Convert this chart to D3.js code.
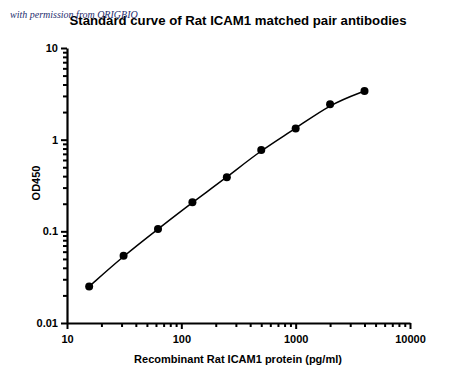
<!DOCTYPE html>
<html><head><meta charset="utf-8">
<script src="https://cdn.jsdelivr.net/npm/d3@7"></script>
<style>body{margin:0;background:#fff}svg{display:block}</style>
</head><body>
<svg id="c" width="450" height="381"></svg>
<script>
const concentrations = [15.625, 31.25, 62.5, 125, 250, 500, 1000, 2000, 4000];
const od450 = [0.025, 0.054, 0.106, 0.207, 0.388, 0.771, 1.32, 2.44, 3.39];
const xTickLabels = [10, 100, 1000, 10000];
const yTickLabels = [0.01, 0.1, 1, 10];

const svg = d3.select("#c");
const x = d3.scaleLog().domain([10, 10000]).range([67, 410]);
const y = d3.scaleLog().domain([0.01, 10]).range([323, 48]);
const font = "Arial, 'Liberation Sans', sans-serif";

const minorX = [], minorY = [];
for (let d = 10; d < 10000; d *= 10) for (let k = 2; k <= 9; k++) minorX.push(d * k);
for (let d = 0.01; d < 10; d *= 10) for (let k = 2; k <= 9; k++) minorY.push(+(d * k).toPrecision(3));

const gx = svg.append("g").attr("transform", "translate(0,323)");
gx.call(d3.axisBottom(x).tickValues(minorX).tickSize(4).tickFormat(""));
gx.call(g => g.selectAll(".domain").remove());
svg.append("g").attr("transform", "translate(0,323)")
  .call(d3.axisBottom(x).tickValues(xTickLabels).tickSize(6).tickSizeOuter(0).tickPadding(6).tickFormat(d3.format("d")));

const gy = svg.append("g").attr("transform", "translate(67,0)");
gy.call(d3.axisLeft(y).tickValues(minorY).tickSize(4).tickFormat(""));
gy.call(g => g.selectAll(".domain").remove());
svg.append("g").attr("transform", "translate(67,0)")
  .call(d3.axisLeft(y).tickValues(yTickLabels).tickSize(6).tickSizeOuter(0).tickPadding(3).tickFormat(d => String(d)));

svg.selectAll(".domain").attr("stroke", "#000").attr("stroke-width", 2.2);
svg.selectAll(".tick line").attr("stroke", "#000").attr("stroke-width", 2);
svg.selectAll(".tick text").attr("font-family", font).attr("font-weight", "bold").attr("font-size", 11).attr("fill", "#000");

const pts = concentrations.map((c, i) => [x(c), y(od450[i])]);
svg.append("path").datum(pts)
  .attr("d", d3.line().curve(d3.curveBasis))
  .attr("fill", "none").attr("stroke", "#000").attr("stroke-width", 1.5);
svg.selectAll("circle.pt").data(concentrations).join("circle")
  .attr("cx", d => x(d)).attr("cy", (d, i) => y(od450[i])).attr("r", 4).attr("fill", "#000");

svg.append("text").attr("x", 238).attr("y", 25).attr("text-anchor", "middle")
  .attr("font-family", font).attr("font-weight", "bold").attr("font-size", 13.2)
  .text("Standard curve of Rat ICAM1 matched pair antibodies");
svg.append("text").attr("x", 238).attr("y", 363).attr("text-anchor", "middle")
  .attr("font-family", font).attr("font-weight", "bold").attr("font-size", 11)
  .text("Recombinant Rat ICAM1 protein (pg/ml)");
svg.append("text").attr("transform", "translate(40,183) rotate(-90)").attr("text-anchor", "middle")
  .attr("font-family", font).attr("font-weight", "bold").attr("font-size", 11)
  .text("OD450");
svg.append("text").attr("x", 10).attr("y", 18)
  .attr("font-family", "'Liberation Serif', 'DejaVu Serif', serif").attr("font-style", "italic")
  .attr("font-size", 10).attr("fill", "#1f2f70")
  .text("with permission from ORIGBIO");
</script>
</body></html>
